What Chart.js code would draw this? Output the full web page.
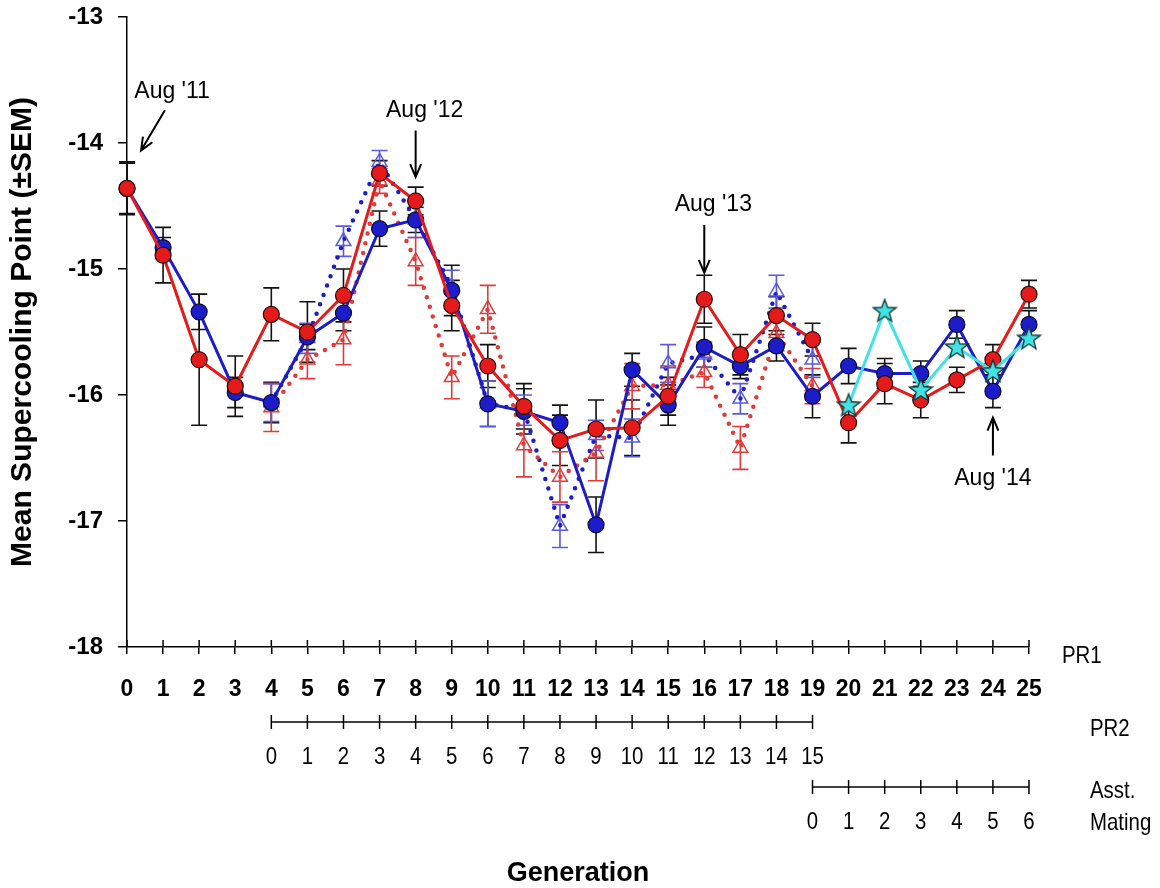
<!DOCTYPE html>
<html>
<head>
<meta charset="utf-8">
<script src="https://cdn.jsdelivr.net/npm/chart.js@4.4.1/dist/chart.umd.min.js"></script>
<style>
  html, body { margin: 0; padding: 0; background: #fff; }
  #wrap { width: 1160px; height: 888px; }
</style>
</head>
<body>
<div id="wrap"><canvas id="myChart" width="1160" height="888"></canvas></div>
<script>
// PR1 generations and the two solid lines (mean, SEM)
const pr1Gen = [0, 1, 2, 3, 4, 5, 6, 7, 8, 9, 10, 11, 12, 13, 14, 15, 16, 17, 18, 19, 20, 21, 22, 23, 24, 25];
const redMean = [-14.36, -14.89, -15.72, -15.93, -15.36, -15.50, -15.21, -14.24, -14.46, -15.29, -15.77, -16.09, -16.36,
  -16.27, -16.26, -16.01, -15.24, -15.68, -15.37, -15.56, -16.22, -15.91, -16.04, -15.88, -15.72, -15.20];
const redSem = [0.21, 0.22, 0.52, 0.24, 0.21, 0.24, 0.21, 0.10, 0.11, 0.20, 0.17, 0.18, 0.20,
  0.23, 0.22, 0.15, 0.19, 0.16, 0.15, 0.13, 0.16, 0.16, 0.14, 0.10, 0.12, 0.11];
const blueMean = [-14.36, -14.83, -15.34, -15.98, -16.06, -15.54, -15.35, -14.68, -14.61, -15.17, -16.07, -16.13, -16.22,
  -17.03, -15.80, -16.08, -15.62, -15.77, -15.61, -16.01, -15.77, -15.83, -15.83, -15.44, -15.97, -15.44];
const blueSem = [0.20, 0.08, 0.14, 0.12, 0.16, 0.10, 0.14, 0.14, 0.10, 0.20, 0.18, 0.18, 0.14,
  0.22, 0.13, 0.16, 0.16, 0.10, 0.12, 0.17, 0.14, 0.12, 0.10, 0.11, 0.13, 0.11];

// PR2 generations (PR2 0 = PR1 4), dotted lines with open triangles
const pr2Gen = [0, 1, 2, 3, 4, 5, 6, 7, 8, 9, 10, 11, 12, 13, 14, 15];
const pr2Start = 4;
const blueTri = [-16.06, -15.55, -14.78, -14.15, -14.61, -15.14, -16.07, -16.12, -17.04, -16.32, -16.34, -15.75, -15.68, -16.03, -15.18, -15.72];
const blueTriSem = [0.15, 0.12, 0.12, 0.09, 0.14, 0.13, 0.18, 0.12, 0.17, 0.12, 0.15, 0.15, 0.10, 0.12, 0.13, 0.14];
const redTri = [-16.10, -15.72, -15.56, -14.30, -14.94, -15.86, -15.32, -16.40, -16.65, -16.46, -15.93, -15.92, -15.82, -16.42, -15.51, -15.93];
const redTriSem = [0.19, 0.15, 0.20, 0.10, 0.19, 0.17, 0.19, 0.25, 0.20, 0.22, 0.18, 0.15, 0.12, 0.17, 0.14, 0.14];

// assortative mating (Asst 0 = PR1 19)
const asstTicks = [0, 1, 2, 3, 4, 5, 6];
const asstGen = [1, 2, 3, 4, 5, 6];
const asstStart = 19;
const starMean = [-16.08, -15.33, -15.96, -15.62, -15.81, -15.55];

// arrows: [label, textX, textY, tailX, tailY, tipX, tipY] in data units
const notes = [
  ["Aug '11", 1.25, -13.59, 1.05, -13.74, 0.39, -14.06],
  ["Aug '12", 8.25, -13.74, 8.0, -13.90, 8.0, -14.27],
  ["Aug '13", 16.25, -14.49, 16.0, -14.65, 16.0, -15.03],
  ["Aug '14", 24.0, -16.66, 24.0, -16.48, 24.0, -16.18]
];

const RED = '#e51b1b';
const BLUE = '#1c1cc8';
const TRI_BLUE = '#5a5ae0';
const TRI_RED = '#e03a3a';
const CYAN = '#3fe3e3';
const ARIAL = "'Liberation Sans', Arial, sans-serif";

const pts = (xs, ys, off) => xs.map((g, i) => ({ x: g + off, y: ys[i] }));

// filled star marker
const star = document.createElement('canvas');
star.width = 26; star.height = 26;
(() => {
  const c = star.getContext('2d');
  c.beginPath();
  for (let i = 0; i < 10; i++) {
    const r = i % 2 ? 5 : 12;
    const a = -Math.PI / 2 + i * Math.PI / 5;
    c.lineTo(13 + r * Math.cos(a), 13.8 + r * Math.sin(a));
  }
  c.closePath();
  c.fillStyle = CYAN; c.fill();
  c.lineWidth = 1.3; c.strokeStyle = '#1b3535'; c.stroke();
})();

// narrow text, like the condensed labels of the original
const narrowText = (ctx, s, px, py, align) => {
  ctx.save();
  ctx.translate(px, py);
  ctx.scale(0.85, 1);
  ctx.textAlign = align;
  ctx.fillText(s, 0, 0);
  ctx.restore();
};

// error bars under the markers
const errorBars = {
  id: 'errorBars',
  beforeDatasetsDraw(chart) {
    const { ctx, scales: { x, y } } = chart;
    chart.data.datasets.forEach((ds) => {
      if (!ds.sem) return;
      ctx.save();
      ctx.strokeStyle = ds.errColor;
      ctx.lineWidth = 1.6;
      ds.data.forEach((p, i) => {
        const px = x.getPixelForValue(p.x);
        const t = y.getPixelForValue(p.y + ds.sem[i]);
        const b = y.getPixelForValue(p.y - ds.sem[i]);
        ctx.beginPath();
        ctx.moveTo(px, t); ctx.lineTo(px, b);
        ctx.moveTo(px - 8, t); ctx.lineTo(px + 8, t);
        ctx.moveTo(px - 8, b); ctx.lineTo(px + 8, b);
        ctx.stroke();
      });
      ctx.restore();
    });
  }
};

// extra generation axes, tick crossings and the arrows
const extras = {
  id: 'extras',
  afterDraw(chart) {
    const { ctx, scales: { x, y } } = chart;
    const base = y.getPixelForValue(-18);
    ctx.save();
    ctx.strokeStyle = '#000';
    ctx.fillStyle = '#000';
    ctx.lineWidth = 1.5;
    // upper half of PR1 ticks
    pr1Gen.forEach((g) => {
      const px = x.getPixelForValue(g);
      ctx.beginPath(); ctx.moveTo(px, base); ctx.lineTo(px, base - 7); ctx.stroke();
    });
    ctx.font = '24px ' + ARIAL;
    ctx.textBaseline = 'middle';
    narrowText(ctx, 'PR1', 1062, base + 9, 'left');

    const subAxis = (ticks, off, ay, ly) => {
      const x0 = x.getPixelForValue(ticks[0] + off);
      const x1 = x.getPixelForValue(ticks[ticks.length - 1] + off);
      ctx.beginPath(); ctx.moveTo(x0, ay); ctx.lineTo(x1, ay); ctx.stroke();
      ticks.forEach((t) => {
        const px = x.getPixelForValue(t + off);
        ctx.beginPath(); ctx.moveTo(px, ay - 7); ctx.lineTo(px, ay + 7); ctx.stroke();
        narrowText(ctx, String(t), px, ly, 'center');
      });
    };
    subAxis(pr2Gen, pr2Start, 722, 757);
    subAxis(asstTicks, asstStart, 787, 822);
    narrowText(ctx, 'PR2', 1090, 729, 'left');
    narrowText(ctx, 'Asst.', 1090, 791, 'left');
    narrowText(ctx, 'Mating', 1090, 823, 'left');

    // annotations
    ctx.font = '23px ' + ARIAL;
    ctx.textAlign = 'center';
    ctx.lineWidth = 2;
    notes.forEach(([label, tx, ty, ax, ay, bx, by]) => {
      ctx.fillText(label, x.getPixelForValue(tx), y.getPixelForValue(ty));
      const x0 = x.getPixelForValue(ax), y0 = y.getPixelForValue(ay);
      const x1 = x.getPixelForValue(bx), y1 = y.getPixelForValue(by);
      const ang = Math.atan2(y1 - y0, x1 - x0);
      ctx.beginPath();
      ctx.moveTo(x0, y0); ctx.lineTo(x1, y1);
      ctx.moveTo(x1 - 14 * Math.cos(ang - 0.4), y1 - 14 * Math.sin(ang - 0.4));
      ctx.lineTo(x1, y1);
      ctx.lineTo(x1 - 14 * Math.cos(ang + 0.4), y1 - 14 * Math.sin(ang + 0.4));
      ctx.stroke();
    });
    ctx.restore();
  }
};

const data = {
  datasets: [
    {
      data: pts(asstGen, starMean, asstStart),
      borderColor: CYAN, borderWidth: 3,
      pointStyle: star, pointRadius: 12,
      order: 0
    },
    {
      data: pts(pr1Gen, redMean, 0), sem: redSem, errColor: '#111',
      borderColor: RED, borderWidth: 3,
      pointStyle: 'circle', pointRadius: 8,
      pointBackgroundColor: RED, pointBorderColor: '#2a0a0a', pointBorderWidth: 1.2,
      order: 1
    },
    {
      data: pts(pr1Gen, blueMean, 0), sem: blueSem, errColor: '#111',
      borderColor: BLUE, borderWidth: 3,
      pointStyle: 'circle', pointRadius: 8,
      pointBackgroundColor: BLUE, pointBorderColor: '#0a0a30', pointBorderWidth: 1.2,
      order: 2
    },
    {
      data: pts(pr2Gen, redTri, pr2Start), sem: redTriSem, errColor: TRI_RED,
      borderColor: TRI_RED, borderWidth: 4.5, borderDash: [0, 10], borderCapStyle: 'round',
      pointStyle: 'triangle', pointRadius: 8.5,
      pointBackgroundColor: 'rgba(255,255,255,0)', pointBorderColor: TRI_RED, pointBorderWidth: 1.5,
      order: 3
    },
    {
      data: pts(pr2Gen, blueTri, pr2Start), sem: blueTriSem, errColor: TRI_BLUE,
      borderColor: BLUE, borderWidth: 4.5, borderDash: [0, 10], borderCapStyle: 'round',
      pointStyle: 'triangle', pointRadius: 8.5,
      pointBackgroundColor: 'rgba(255,255,255,0)', pointBorderColor: TRI_BLUE, pointBorderWidth: 1.5,
      order: 4
    }
  ]
};

const config = {
  type: 'line',
  data: data,
  plugins: [errorBars, extras],
  options: {
    responsive: false,
    animation: false,
    clip: false,
    layout: { padding: { top: 17, right: 131, left: 0, bottom: 0 } },
    plugins: { legend: { display: false }, tooltip: { enabled: false } },
    elements: { line: { tension: 0, fill: false } },
    scales: {
      x: {
        type: 'linear', min: 0, max: 25,
        ticks: { stepSize: 1, color: '#000', padding: 22, maxRotation: 0, autoSkip: false,
          font: { family: ARIAL, size: 23, weight: 'bold' } },
        grid: { drawOnChartArea: false, color: '#000', tickLength: 7, lineWidth: 1.5 },
        border: { color: '#000', width: 1.5 },
        title: { display: true, text: 'Generation', color: '#000', padding: { top: 0, bottom: 0 },
          font: { family: ARIAL, size: 27, weight: 'bold', lineHeight: 1.05 } },
        afterFit: (s) => { s.height = 888 - 647; }
      },
      y: {
        type: 'linear', min: -18, max: -13,
        ticks: { stepSize: 1, color: '#000', padding: 15,
          font: { family: ARIAL, size: 24, weight: 'bold' } },
        grid: { drawOnChartArea: false, color: '#000', tickLength: 9, lineWidth: 1.5 },
        border: { color: '#000', width: 1.5 },
        title: { display: true, text: 'Mean Supercooling Point (±SEM)', color: '#000', padding: { top: 5, bottom: 0 },
          font: { family: ARIAL, size: 30, weight: 'bold' } },
        // fixed width, and no extra top room for the -13 label
        afterFit: (s) => { s.width = 127; s.paddingTop = 0; s.paddingBottom = 0; }
      }
    }
  }
};

const ctx = document.getElementById('myChart');
const myChart = new Chart(ctx, config);
</script>
</body>
</html>
